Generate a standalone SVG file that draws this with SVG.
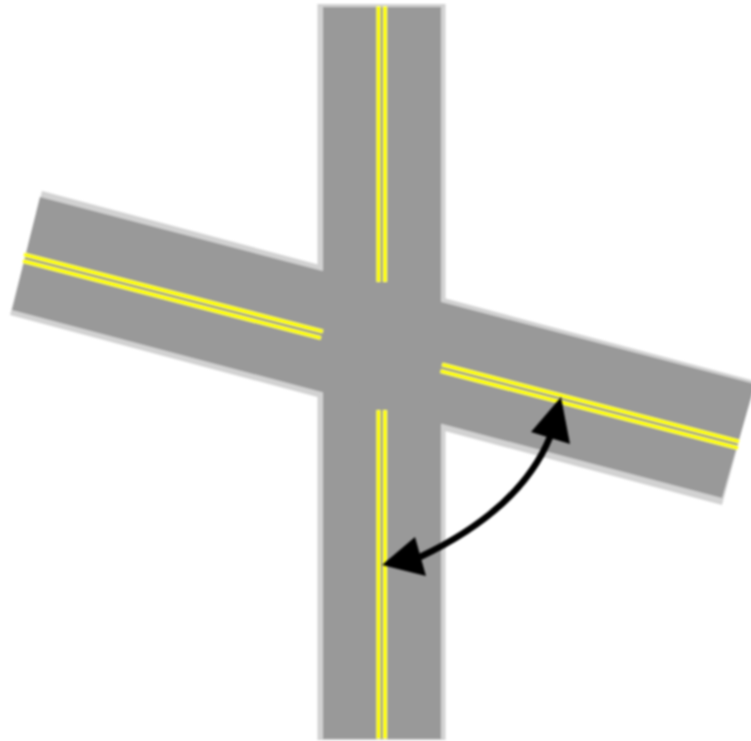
<svg xmlns="http://www.w3.org/2000/svg" width="751" height="741" viewBox="0 0 751 741">
<style>
.edge{fill:#d2d2d2}
.road{fill:#999999}
.mark{fill:none;stroke:#ffff00;stroke-width:4.200}
.arc{fill:none;stroke:#000000;stroke-width:6.500}
.head{fill:#000000}
</style>
<defs><filter id="soft" x="-5%" y="-5%" width="110%" height="110%"><feGaussianBlur stdDeviation="0.8"/></filter></defs>
<rect width="751" height="741" fill="#ffffff"/>
<g id="roads" filter="url(#soft)">
<rect class="edge" x="317.500" y="4" width="128" height="736"/>
<polygon class="edge" points="42,191 755,381 722,505 10,315"/>
<rect class="road" x="323" y="7" width="118" height="732"/>
<polygon class="road" points="40,197 755,384 722,498 12,310"/>
<g id="centre-lines">
<path class="mark" d="M378.500 6V282M385 6V282M378.500 410V739M385 410V739"/>
<path class="mark" d="M24,254.500L323,331.500M23,261L321,338M442,364.500L739,441.500M440.500,371L738,448"/>
</g>
</g>
<g id="connectors" filter="url(#soft)">
<path class="arc" d="M550,437C534,476 500,519 420,557"/>
<polygon class="head" points="561,397 531,432 570,444"/>
<polygon class="head" points="382,565 415,537 426,576"/>
</g>
</svg>
